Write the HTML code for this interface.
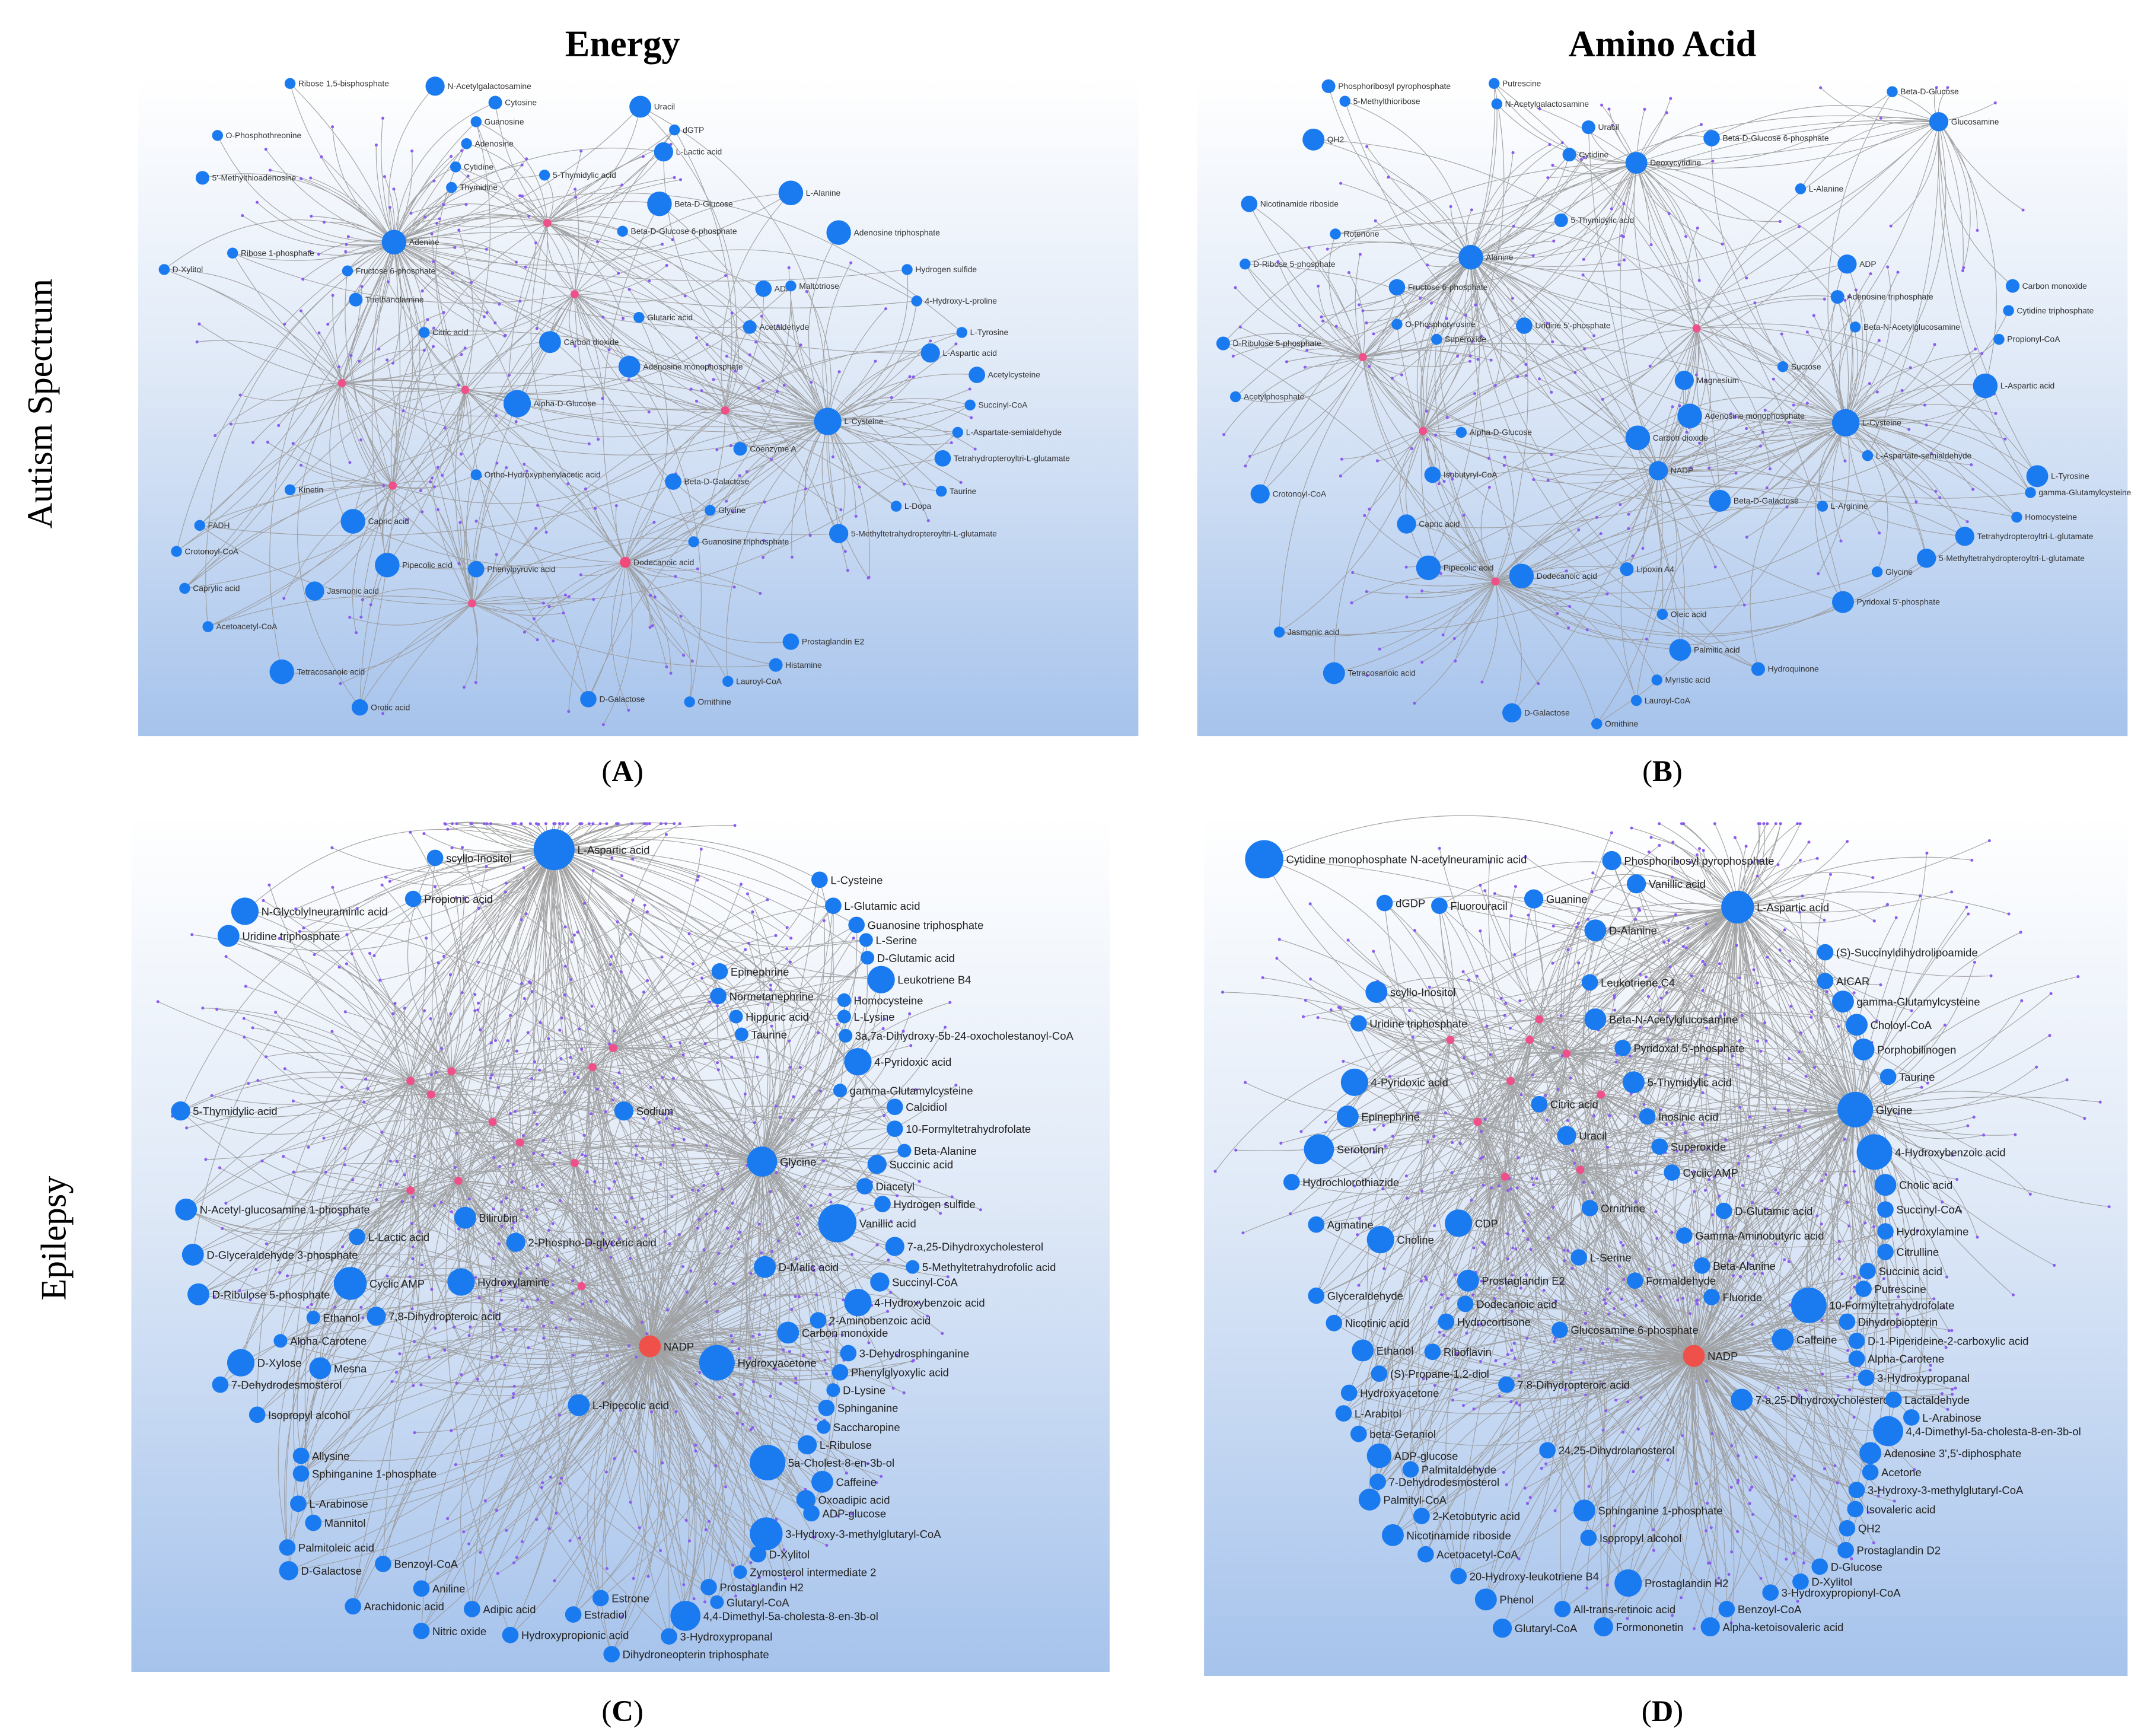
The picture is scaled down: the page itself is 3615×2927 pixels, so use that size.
<!DOCTYPE html>
<html><head><meta charset="utf-8"><style>
html,body{margin:0;padding:0;background:#fff;}
svg{display:block;}
.n circle{fill:#1a7af0;}
.a text{font:6px "Liberation Sans",sans-serif;fill:#333;}
.c text{font:8px "Liberation Sans",sans-serif;fill:#222;}
.t{font:bold 27px "Liberation Serif",serif;fill:#000;}
.rl{font:26px "Liberation Serif",serif;fill:#000;}
.pl{font:22px "Liberation Serif",serif;fill:#000;}
</style></head><body>
<svg id="s" width="3615" height="2927" viewBox="0 0 1567 1268.8" preserveAspectRatio="none" xmlns="http://www.w3.org/2000/svg">
<defs><linearGradient id="g" x1="0" y1="0" x2="0" y2="1"><stop offset="0" stop-color="#ffffff"/><stop offset="0.45" stop-color="#dfe9f7"/><stop offset="1" stop-color="#a6c3ec"/></linearGradient></defs>
<rect x="101" y="57" width="731" height="481" fill="url(#g)"/>
<rect x="875" y="57" width="680" height="481" fill="url(#g)"/>
<rect x="96" y="595" width="715" height="627" fill="url(#g)"/>
<rect x="880" y="595" width="675" height="630" fill="url(#g)"/>
<text class="t" x="455" y="41" text-anchor="middle">Energy</text>
<text class="t" x="1215" y="41" text-anchor="middle">Amino Acid</text>
<text class="rl" transform="translate(38,295) rotate(-90)" text-anchor="middle">Autism Spectrum</text>
<text class="rl" transform="translate(48,905) rotate(-90)" text-anchor="middle">Epilepsy</text>
<text class="pl" x="455" y="571" text-anchor="middle">(<tspan font-weight="bold">A</tspan>)</text>
<text class="pl" x="1215" y="571" text-anchor="middle">(<tspan font-weight="bold">B</tspan>)</text>
<text class="pl" x="455" y="1258" text-anchor="middle">(<tspan font-weight="bold">C</tspan>)</text>
<text class="pl" x="1215" y="1258" text-anchor="middle">(<tspan font-weight="bold">D</tspan>)</text>

<g id="pA" class="a">
<g class="n" transform="translate(212,61)"><circle r="4"/><text x="6" y="2">Ribose 1,5-bisphosphate</text></g>
<g class="n" transform="translate(318,63)"><circle r="7"/><text x="9" y="2">N-Acetylgalactosamine</text></g>
<g class="n" transform="translate(362,75)"><circle r="5"/><text x="7" y="2">Cytosine</text></g>
<g class="n" transform="translate(468,78)"><circle r="8"/><text x="10" y="2">Uracil</text></g>
<g class="n" transform="translate(159,99)"><circle r="4"/><text x="6" y="2">O-Phosphothreonine</text></g>
<g class="n" transform="translate(348,89)"><circle r="4"/><text x="6" y="2">Guanosine</text></g>
<g class="n" transform="translate(493,95)"><circle r="4"/><text x="6" y="2">dGTP</text></g>
<g class="n" transform="translate(341,105)"><circle r="4"/><text x="6" y="2">Adenosine</text></g>
<g class="n" transform="translate(485,111)"><circle r="7"/><text x="9" y="2">L-Lactic acid</text></g>
<g class="n" transform="translate(148,130)"><circle r="5"/><text x="7" y="2">5'-Methylthioadenosine</text></g>
<g class="n" transform="translate(333,122)"><circle r="4"/><text x="6" y="2">Cytidine</text></g>
<g class="n" transform="translate(398,128)"><circle r="4"/><text x="6" y="2">5-Thymidylic acid</text></g>
<g class="n" transform="translate(330,137)"><circle r="4"/><text x="6" y="2">Thymidine</text></g>
<g class="n" transform="translate(578,141)"><circle r="9"/><text x="11" y="2">L-Alanine</text></g>
<g class="n" transform="translate(482,149)"><circle r="9"/><text x="11" y="2">Beta-D-Glucose</text></g>
<g class="n" transform="translate(288,177)"><circle r="9"/><text x="11" y="2">Adenine</text></g>
<g class="n" transform="translate(455,169)"><circle r="4"/><text x="6" y="2">Beta-D-Glucose 6-phosphate</text></g>
<g class="n" transform="translate(613,170)"><circle r="9"/><text x="11" y="2">Adenosine triphosphate</text></g>
<g class="n" transform="translate(120,197)"><circle r="4"/><text x="6" y="2">D-Xylitol</text></g>
<g class="n" transform="translate(170,185)"><circle r="4"/><text x="6" y="2">Ribose 1-phosphate</text></g>
<g class="n" transform="translate(254,198)"><circle r="4"/><text x="6" y="2">Fructose 6-phosphate</text></g>
<g class="n" transform="translate(663,197)"><circle r="4"/><text x="6" y="2">Hydrogen sulfide</text></g>
<g class="n" transform="translate(260,219)"><circle r="5"/><text x="7" y="2">Triethanolamine</text></g>
<g class="n" transform="translate(558,211)"><circle r="6"/><text x="8" y="2">ADP</text></g>
<g class="n" transform="translate(578,209)"><circle r="4"/><text x="6" y="2">Maltotriose</text></g>
<g class="n" transform="translate(670,220)"><circle r="4"/><text x="6" y="2">4-Hydroxy-L-proline</text></g>
<g class="n" transform="translate(467,232)"><circle r="4"/><text x="6" y="2">Glutaric acid</text></g>
<g class="n" transform="translate(548,239)"><circle r="5"/><text x="7" y="2">Acetaldehyde</text></g>
<g class="n" transform="translate(310,243)"><circle r="4"/><text x="6" y="2">Citric acid</text></g>
<g class="n" transform="translate(402,250)"><circle r="8"/><text x="10" y="2">Carbon dioxide</text></g>
<g class="n" transform="translate(703,243)"><circle r="4"/><text x="6" y="2">L-Tyrosine</text></g>
<g class="n" transform="translate(680,258)"><circle r="7"/><text x="9" y="2">L-Aspartic acid</text></g>
<g class="n" transform="translate(460,268)"><circle r="8"/><text x="10" y="2">Adenosine monophosphate</text></g>
<g class="n" transform="translate(714,274)"><circle r="6"/><text x="8" y="2">Acetylcysteine</text></g>
<g class="n" transform="translate(378,295)"><circle r="10"/><text x="12" y="2">Alpha-D-Glucose</text></g>
<g class="n" transform="translate(709,296)"><circle r="4"/><text x="6" y="2">Succinyl-CoA</text></g>
<g class="n" transform="translate(605,308)"><circle r="10"/><text x="12" y="2">L-Cysteine</text></g>
<g class="n" transform="translate(700,316)"><circle r="4"/><text x="6" y="2">L-Aspartate-semialdehyde</text></g>
<g class="n" transform="translate(541,328)"><circle r="5"/><text x="7" y="2">Coenzyme A</text></g>
<g class="n" transform="translate(689,335)"><circle r="6"/><text x="8" y="2">Tetrahydropteroyltri-L-glutamate</text></g>
<g class="n" transform="translate(348,347)"><circle r="4"/><text x="6" y="2">Ortho-Hydroxyphenylacetic acid</text></g>
<g class="n" transform="translate(492,352)"><circle r="6"/><text x="8" y="2">Beta-D-Galactose</text></g>
<g class="n" transform="translate(212,358)"><circle r="4"/><text x="6" y="2">Kinetin</text></g>
<g class="n" transform="translate(688,359)"><circle r="4"/><text x="6" y="2">Taurine</text></g>
<g class="n" transform="translate(519,373)"><circle r="4"/><text x="6" y="2">Glycine</text></g>
<g class="n" transform="translate(655,370)"><circle r="4"/><text x="6" y="2">L-Dopa</text></g>
<g class="n" transform="translate(258,381)"><circle r="9"/><text x="11" y="2">Capric acid</text></g>
<g class="n" transform="translate(146,384)"><circle r="4"/><text x="6" y="2">FADH</text></g>
<g class="n" transform="translate(613,390)"><circle r="7"/><text x="9" y="2">5-Methyltetrahydropteroyltri-L-glutamate</text></g>
<g class="n" transform="translate(507,396)"><circle r="4"/><text x="6" y="2">Guanosine triphosphate</text></g>
<g class="n" transform="translate(129,403)"><circle r="4"/><text x="6" y="2">Crotonoyl-CoA</text></g>
<g class="n" transform="translate(283,413)"><circle r="9"/><text x="11" y="2">Pipecolic acid</text></g>
<g class="n" transform="translate(348,416)"><circle r="6"/><text x="8" y="2">Phenylpyruvic acid</text></g>
<g class="n" transform="translate(457,411)"><circle r="4" style="fill:#f04a7a"/><text x="6" y="2">Dodecanoic acid</text></g>
<g class="n" transform="translate(135,430)"><circle r="4"/><text x="6" y="2">Caprylic acid</text></g>
<g class="n" transform="translate(230,432)"><circle r="7"/><text x="9" y="2">Jasmonic acid</text></g>
<g class="n" transform="translate(152,458)"><circle r="4"/><text x="6" y="2">Acetoacetyl-CoA</text></g>
<g class="n" transform="translate(578,469)"><circle r="6"/><text x="8" y="2">Prostaglandin E2</text></g>
<g class="n" transform="translate(567,486)"><circle r="5"/><text x="7" y="2">Histamine</text></g>
<g class="n" transform="translate(206,491)"><circle r="9"/><text x="11" y="2">Tetracosanoic acid</text></g>
<g class="n" transform="translate(263,517)"><circle r="6"/><text x="8" y="2">Orotic acid</text></g>
<g class="n" transform="translate(430,511)"><circle r="6"/><text x="8" y="2">D-Galactose</text></g>
<g class="n" transform="translate(504,513)"><circle r="4"/><text x="6" y="2">Ornithine</text></g>
<g class="n" transform="translate(532,498)"><circle r="4"/><text x="6" y="2">Lauroyl-CoA</text></g>
</g>

<g id="pB" class="a">
<g class="n" transform="translate(971,63)"><circle r="5"/><text x="7" y="2">Phosphoribosyl pyrophosphate</text></g>
<g class="n" transform="translate(1092,61)"><circle r="4"/><text x="6" y="2">Putrescine</text></g>
<g class="n" transform="translate(983,74)"><circle r="4"/><text x="6" y="2">5-Methylthioribose</text></g>
<g class="n" transform="translate(1094,76)"><circle r="4"/><text x="6" y="2">N-Acetylgalactosamine</text></g>
<g class="n" transform="translate(1383,67)"><circle r="4"/><text x="6" y="2">Beta-D-Glucose</text></g>
<g class="n" transform="translate(1417,89)"><circle r="7"/><text x="9" y="2">Glucosamine</text></g>
<g class="n" transform="translate(1161,93)"><circle r="5"/><text x="7" y="2">Uracil</text></g>
<g class="n" transform="translate(960,102)"><circle r="8"/><text x="10" y="2">QH2</text></g>
<g class="n" transform="translate(1251,101)"><circle r="6"/><text x="8" y="2">Beta-D-Glucose 6-phosphate</text></g>
<g class="n" transform="translate(1147,113)"><circle r="5"/><text x="7" y="2">Cytidine</text></g>
<g class="n" transform="translate(1196,119)"><circle r="8"/><text x="10" y="2">Deoxycytidine</text></g>
<g class="n" transform="translate(1316,138)"><circle r="4"/><text x="6" y="2">L-Alanine</text></g>
<g class="n" transform="translate(913,149)"><circle r="6"/><text x="8" y="2">Nicotinamide riboside</text></g>
<g class="n" transform="translate(1141,161)"><circle r="5"/><text x="7" y="2">5-Thymidylic acid</text></g>
<g class="n" transform="translate(976,171)"><circle r="4"/><text x="6" y="2">Rotenone</text></g>
<g class="n" transform="translate(1075,188)"><circle r="9"/><text x="11" y="2">Alanine</text></g>
<g class="n" transform="translate(1350,193)"><circle r="7"/><text x="9" y="2">ADP</text></g>
<g class="n" transform="translate(910,193)"><circle r="4"/><text x="6" y="2">D-Ribose 5-phosphate</text></g>
<g class="n" transform="translate(1021,210)"><circle r="6"/><text x="8" y="2">Fructose 6-phosphate</text></g>
<g class="n" transform="translate(1471,209)"><circle r="5"/><text x="7" y="2">Carbon monoxide</text></g>
<g class="n" transform="translate(1343,217)"><circle r="5"/><text x="7" y="2">Adenosine triphosphate</text></g>
<g class="n" transform="translate(1468,227)"><circle r="4"/><text x="6" y="2">Cytidine triphosphate</text></g>
<g class="n" transform="translate(1021,237)"><circle r="4"/><text x="6" y="2">O-Phosphotyrosine</text></g>
<g class="n" transform="translate(1114,238)"><circle r="6"/><text x="8" y="2">Uridine 5'-phosphate</text></g>
<g class="n" transform="translate(1050,248)"><circle r="4"/><text x="6" y="2">Superoxide</text></g>
<g class="n" transform="translate(1356,239)"><circle r="4"/><text x="6" y="2">Beta-N-Acetylglucosamine</text></g>
<g class="n" transform="translate(894,251)"><circle r="5"/><text x="7" y="2">D-Ribulose 5-phosphate</text></g>
<g class="n" transform="translate(1461,248)"><circle r="4"/><text x="6" y="2">Propionyl-CoA</text></g>
<g class="n" transform="translate(1303,268)"><circle r="4"/><text x="6" y="2">Sucrose</text></g>
<g class="n" transform="translate(1231,278)"><circle r="7"/><text x="9" y="2">Magnesium</text></g>
<g class="n" transform="translate(903,290)"><circle r="4"/><text x="6" y="2">Acetylphosphate</text></g>
<g class="n" transform="translate(1451,282)"><circle r="9"/><text x="11" y="2">L-Aspartic acid</text></g>
<g class="n" transform="translate(1235,304)"><circle r="9"/><text x="11" y="2">Adenosine monophosphate</text></g>
<g class="n" transform="translate(1349,309)"><circle r="10"/><text x="12" y="2">L-Cysteine</text></g>
<g class="n" transform="translate(1068,316)"><circle r="4"/><text x="6" y="2">Alpha-D-Glucose</text></g>
<g class="n" transform="translate(1197,320)"><circle r="9"/><text x="11" y="2">Carbon dioxide</text></g>
<g class="n" transform="translate(1365,333)"><circle r="4"/><text x="6" y="2">L-Aspartate-semialdehyde</text></g>
<g class="n" transform="translate(1212,344)"><circle r="7"/><text x="9" y="2">NADP</text></g>
<g class="n" transform="translate(1047,347)"><circle r="6"/><text x="8" y="2">Isobutyryl-CoA</text></g>
<g class="n" transform="translate(1489,348)"><circle r="8"/><text x="10" y="2">L-Tyrosine</text></g>
<g class="n" transform="translate(921,361)"><circle r="7"/><text x="9" y="2">Crotonoyl-CoA</text></g>
<g class="n" transform="translate(1257,366)"><circle r="8"/><text x="10" y="2">Beta-D-Galactose</text></g>
<g class="n" transform="translate(1484,360)"><circle r="4"/><text x="6" y="2">gamma-Glutamylcysteine</text></g>
<g class="n" transform="translate(1332,370)"><circle r="4"/><text x="6" y="2">L-Arginine</text></g>
<g class="n" transform="translate(1474,378)"><circle r="4"/><text x="6" y="2">Homocysteine</text></g>
<g class="n" transform="translate(1028,383)"><circle r="7"/><text x="9" y="2">Capric acid</text></g>
<g class="n" transform="translate(1436,392)"><circle r="7"/><text x="9" y="2">Tetrahydropteroyltri-L-glutamate</text></g>
<g class="n" transform="translate(1408,408)"><circle r="7"/><text x="9" y="2">5-Methyltetrahydropteroyltri-L-glutamate</text></g>
<g class="n" transform="translate(1044,415)"><circle r="9"/><text x="11" y="2">Pipecolic acid</text></g>
<g class="n" transform="translate(1112,421)"><circle r="9"/><text x="11" y="2">Dodecanoic acid</text></g>
<g class="n" transform="translate(1189,416)"><circle r="5"/><text x="7" y="2">Lipoxin A4</text></g>
<g class="n" transform="translate(1372,418)"><circle r="4"/><text x="6" y="2">Glycine</text></g>
<g class="n" transform="translate(1347,440)"><circle r="8"/><text x="10" y="2">Pyridoxal 5'-phosphate</text></g>
<g class="n" transform="translate(1215,449)"><circle r="4"/><text x="6" y="2">Oleic acid</text></g>
<g class="n" transform="translate(935,462)"><circle r="4"/><text x="6" y="2">Jasmonic acid</text></g>
<g class="n" transform="translate(1228,475)"><circle r="8"/><text x="10" y="2">Palmitic acid</text></g>
<g class="n" transform="translate(1285,489)"><circle r="5"/><text x="7" y="2">Hydroquinone</text></g>
<g class="n" transform="translate(975,492)"><circle r="8"/><text x="10" y="2">Tetracosanoic acid</text></g>
<g class="n" transform="translate(1211,497)"><circle r="4"/><text x="6" y="2">Myristic acid</text></g>
<g class="n" transform="translate(1196,512)"><circle r="4"/><text x="6" y="2">Lauroyl-CoA</text></g>
<g class="n" transform="translate(1105,521)"><circle r="7"/><text x="9" y="2">D-Galactose</text></g>
<g class="n" transform="translate(1167,529)"><circle r="4"/><text x="6" y="2">Ornithine</text></g>
</g>

<g id="pC" class="c">
<g class="n" transform="translate(405,621)"><circle r="15"/><text x="17" y="3">L-Aspartic acid</text></g>
<g class="n" transform="translate(318,627)"><circle r="6"/><text x="8" y="3">scyllo-Inositol</text></g>
<g class="n" transform="translate(599,643)"><circle r="6"/><text x="8" y="3">L-Cysteine</text></g>
<g class="n" transform="translate(179,666)"><circle r="10"/><text x="12" y="3">N-Glycolylneuraminic acid</text></g>
<g class="n" transform="translate(302,657)"><circle r="6"/><text x="8" y="3">Propionic acid</text></g>
<g class="n" transform="translate(609,662)"><circle r="6"/><text x="8" y="3">L-Glutamic acid</text></g>
<g class="n" transform="translate(167,684)"><circle r="8"/><text x="10" y="3">Uridine triphosphate</text></g>
<g class="n" transform="translate(626,676)"><circle r="6"/><text x="8" y="3">Guanosine triphosphate</text></g>
<g class="n" transform="translate(633,687)"><circle r="5"/><text x="7" y="3">L-Serine</text></g>
<g class="n" transform="translate(634,700)"><circle r="5"/><text x="7" y="3">D-Glutamic acid</text></g>
<g class="n" transform="translate(526,710)"><circle r="6"/><text x="8" y="3">Epinephrine</text></g>
<g class="n" transform="translate(644,716)"><circle r="10"/><text x="12" y="3">Leukotriene B4</text></g>
<g class="n" transform="translate(525,728)"><circle r="6"/><text x="8" y="3">Normetanephrine</text></g>
<g class="n" transform="translate(617,731)"><circle r="5"/><text x="7" y="3">Homocysteine</text></g>
<g class="n" transform="translate(538,743)"><circle r="5"/><text x="7" y="3">Hippuric acid</text></g>
<g class="n" transform="translate(617,743)"><circle r="5"/><text x="7" y="3">L-Lysine</text></g>
<g class="n" transform="translate(542,756)"><circle r="5"/><text x="7" y="3">Taurine</text></g>
<g class="n" transform="translate(618,757)"><circle r="5"/><text x="7" y="3">3a,7a-Dihydroxy-5b-24-oxocholestanoyl-CoA</text></g>
<g class="n" transform="translate(627,776)"><circle r="10"/><text x="12" y="3">4-Pyridoxic acid</text></g>
<g class="n" transform="translate(614,797)"><circle r="5"/><text x="7" y="3">gamma-Glutamylcysteine</text></g>
<g class="n" transform="translate(132,812)"><circle r="7"/><text x="9" y="3">5-Thymidylic acid</text></g>
<g class="n" transform="translate(456,812)"><circle r="7"/><text x="9" y="3">Sodium</text></g>
<g class="n" transform="translate(654,809)"><circle r="6"/><text x="8" y="3">Calcidiol</text></g>
<g class="n" transform="translate(654,825)"><circle r="6"/><text x="8" y="3">10-Formyltetrahydrofolate</text></g>
<g class="n" transform="translate(661,841)"><circle r="5"/><text x="7" y="3">Beta-Alanine</text></g>
<g class="n" transform="translate(557,849)"><circle r="11"/><text x="13" y="3">Glycine</text></g>
<g class="n" transform="translate(641,851)"><circle r="7"/><text x="9" y="3">Succinic acid</text></g>
<g class="n" transform="translate(632,867)"><circle r="6"/><text x="8" y="3">Diacetyl</text></g>
<g class="n" transform="translate(645,880)"><circle r="6"/><text x="8" y="3">Hydrogen sulfide</text></g>
<g class="n" transform="translate(136,884)"><circle r="8"/><text x="10" y="3">N-Acetyl-glucosamine 1-phosphate</text></g>
<g class="n" transform="translate(340,890)"><circle r="8"/><text x="10" y="3">Bilirubin</text></g>
<g class="n" transform="translate(612,894)"><circle r="14"/><text x="16" y="3">Vanillic acid</text></g>
<g class="n" transform="translate(261,904)"><circle r="6"/><text x="8" y="3">L-Lactic acid</text></g>
<g class="n" transform="translate(377,908)"><circle r="7"/><text x="9" y="3">2-Phospho-D-glyceric acid</text></g>
<g class="n" transform="translate(654,911)"><circle r="7"/><text x="9" y="3">7-a,25-Dihydroxycholesterol</text></g>
<g class="n" transform="translate(141,917)"><circle r="8"/><text x="10" y="3">D-Glyceraldehyde 3-phosphate</text></g>
<g class="n" transform="translate(559,926)"><circle r="8"/><text x="10" y="3">D-Malic acid</text></g>
<g class="n" transform="translate(667,926)"><circle r="5"/><text x="7" y="3">5-Methyltetrahydrofolic acid</text></g>
<g class="n" transform="translate(256,938)"><circle r="12"/><text x="14" y="3">Cyclic AMP</text></g>
<g class="n" transform="translate(337,937)"><circle r="10"/><text x="12" y="3">Hydroxylamine</text></g>
<g class="n" transform="translate(643,937)"><circle r="7"/><text x="9" y="3">Succinyl-CoA</text></g>
<g class="n" transform="translate(145,946)"><circle r="8"/><text x="10" y="3">D-Ribulose 5-phosphate</text></g>
<g class="n" transform="translate(627,952)"><circle r="10"/><text x="12" y="3">4-Hydroxybenzoic acid</text></g>
<g class="n" transform="translate(229,963)"><circle r="5"/><text x="7" y="3">Ethanol</text></g>
<g class="n" transform="translate(275,962)"><circle r="7"/><text x="9" y="3">7,8-Dihydropteroic acid</text></g>
<g class="n" transform="translate(598,965)"><circle r="6"/><text x="8" y="3">2-Aminobenzoic acid</text></g>
<g class="n" transform="translate(576,974)"><circle r="8"/><text x="10" y="3">Carbon monoxide</text></g>
<g class="n" transform="translate(205,980)"><circle r="5"/><text x="7" y="3">Alpha-Carotene</text></g>
<g class="n" transform="translate(475,984)"><circle r="8" style="fill:#f0504a"/><text x="10" y="3">NADP</text></g>
<g class="n" transform="translate(524,996)"><circle r="13"/><text x="15" y="3">Hydroxyacetone</text></g>
<g class="n" transform="translate(620,989)"><circle r="6"/><text x="8" y="3">3-Dehydrosphinganine</text></g>
<g class="n" transform="translate(176,996)"><circle r="10"/><text x="12" y="3">D-Xylose</text></g>
<g class="n" transform="translate(234,1000)"><circle r="8"/><text x="10" y="3">Mesna</text></g>
<g class="n" transform="translate(614,1003)"><circle r="6"/><text x="8" y="3">Phenylglyoxylic acid</text></g>
<g class="n" transform="translate(161,1012)"><circle r="6"/><text x="8" y="3">7-Dehydrodesmosterol</text></g>
<g class="n" transform="translate(609,1016)"><circle r="5"/><text x="7" y="3">D-Lysine</text></g>
<g class="n" transform="translate(423,1027)"><circle r="8"/><text x="10" y="3">L-Pipecolic acid</text></g>
<g class="n" transform="translate(604,1029)"><circle r="6"/><text x="8" y="3">Sphinganine</text></g>
<g class="n" transform="translate(188,1034)"><circle r="6"/><text x="8" y="3">Isopropyl alcohol</text></g>
<g class="n" transform="translate(602,1043)"><circle r="5"/><text x="7" y="3">Saccharopine</text></g>
<g class="n" transform="translate(590,1056)"><circle r="7"/><text x="9" y="3">L-Ribulose</text></g>
<g class="n" transform="translate(220,1064)"><circle r="6"/><text x="8" y="3">Allysine</text></g>
<g class="n" transform="translate(561,1069)"><circle r="13"/><text x="15" y="3">5a-Cholest-8-en-3b-ol</text></g>
<g class="n" transform="translate(220,1077)"><circle r="6"/><text x="8" y="3">Sphinganine 1-phosphate</text></g>
<g class="n" transform="translate(601,1083)"><circle r="8"/><text x="10" y="3">Caffeine</text></g>
<g class="n" transform="translate(218,1099)"><circle r="6"/><text x="8" y="3">L-Arabinose</text></g>
<g class="n" transform="translate(589,1096)"><circle r="7"/><text x="9" y="3">Oxoadipic acid</text></g>
<g class="n" transform="translate(593,1106)"><circle r="6"/><text x="8" y="3">ADP-glucose</text></g>
<g class="n" transform="translate(229,1113)"><circle r="6"/><text x="8" y="3">Mannitol</text></g>
<g class="n" transform="translate(560,1121)"><circle r="12"/><text x="14" y="3">3-Hydroxy-3-methylglutaryl-CoA</text></g>
<g class="n" transform="translate(210,1131)"><circle r="6"/><text x="8" y="3">Palmitoleic acid</text></g>
<g class="n" transform="translate(554,1136)"><circle r="6"/><text x="8" y="3">D-Xylitol</text></g>
<g class="n" transform="translate(280,1143)"><circle r="6"/><text x="8" y="3">Benzoyl-CoA</text></g>
<g class="n" transform="translate(211,1148)"><circle r="7"/><text x="9" y="3">D-Galactose</text></g>
<g class="n" transform="translate(541,1149)"><circle r="5"/><text x="7" y="3">Zymosterol intermediate 2</text></g>
<g class="n" transform="translate(308,1161)"><circle r="6"/><text x="8" y="3">Aniline</text></g>
<g class="n" transform="translate(518,1160)"><circle r="6"/><text x="8" y="3">Prostaglandin H2</text></g>
<g class="n" transform="translate(258,1174)"><circle r="6"/><text x="8" y="3">Arachidonic acid</text></g>
<g class="n" transform="translate(345,1176)"><circle r="6"/><text x="8" y="3">Adipic acid</text></g>
<g class="n" transform="translate(439,1168)"><circle r="6"/><text x="8" y="3">Estrone</text></g>
<g class="n" transform="translate(419,1180)"><circle r="6"/><text x="8" y="3">Estradiol</text></g>
<g class="n" transform="translate(524,1171)"><circle r="5"/><text x="7" y="3">Glutaryl-CoA</text></g>
<g class="n" transform="translate(501,1181)"><circle r="11"/><text x="13" y="3">4,4-Dimethyl-5a-cholesta-8-en-3b-ol</text></g>
<g class="n" transform="translate(308,1192)"><circle r="6"/><text x="8" y="3">Nitric oxide</text></g>
<g class="n" transform="translate(373,1195)"><circle r="6"/><text x="8" y="3">Hydroxypropionic acid</text></g>
<g class="n" transform="translate(489,1196)"><circle r="6"/><text x="8" y="3">3-Hydroxypropanal</text></g>
<g class="n" transform="translate(447,1209)"><circle r="6"/><text x="8" y="3">Dihydroneopterin triphosphate</text></g>
</g>

<g id="pD" class="c">
<g class="n" transform="translate(924,628)"><circle r="14"/><text x="16" y="3">Cytidine monophosphate N-acetylneuraminic acid</text></g>
<g class="n" transform="translate(1178,629)"><circle r="7"/><text x="9" y="3">Phosphoribosyl pyrophosphate</text></g>
<g class="n" transform="translate(1196,646)"><circle r="7"/><text x="9" y="3">Vanillic acid</text></g>
<g class="n" transform="translate(1012,660)"><circle r="6"/><text x="8" y="3">dGDP</text></g>
<g class="n" transform="translate(1052,662)"><circle r="6"/><text x="8" y="3">Fluorouracil</text></g>
<g class="n" transform="translate(1121,657)"><circle r="7"/><text x="9" y="3">Guanine</text></g>
<g class="n" transform="translate(1270,663)"><circle r="12"/><text x="14" y="3">L-Aspartic acid</text></g>
<g class="n" transform="translate(1166,680)"><circle r="8"/><text x="10" y="3">D-Alanine</text></g>
<g class="n" transform="translate(1334,696)"><circle r="6"/><text x="8" y="3">(S)-Succinyldihydrolipoamide</text></g>
<g class="n" transform="translate(1006,725)"><circle r="8"/><text x="10" y="3">scyllo-Inositol</text></g>
<g class="n" transform="translate(1162,718)"><circle r="6"/><text x="8" y="3">Leukotriene C4</text></g>
<g class="n" transform="translate(1334,717)"><circle r="6"/><text x="8" y="3">AICAR</text></g>
<g class="n" transform="translate(1347,732)"><circle r="8"/><text x="10" y="3">gamma-Glutamylcysteine</text></g>
<g class="n" transform="translate(993,748)"><circle r="6"/><text x="8" y="3">Uridine triphosphate</text></g>
<g class="n" transform="translate(1166,745)"><circle r="8"/><text x="10" y="3">Beta-N-Acetylglucosamine</text></g>
<g class="n" transform="translate(1357,749)"><circle r="8"/><text x="10" y="3">Choloyl-CoA</text></g>
<g class="n" transform="translate(1186,766)"><circle r="6"/><text x="8" y="3">Pyridoxal 5'-phosphate</text></g>
<g class="n" transform="translate(1362,767)"><circle r="8"/><text x="10" y="3">Porphobilinogen</text></g>
<g class="n" transform="translate(990,791)"><circle r="10"/><text x="12" y="3">4-Pyridoxic acid</text></g>
<g class="n" transform="translate(1194,791)"><circle r="8"/><text x="10" y="3">5-Thymidylic acid</text></g>
<g class="n" transform="translate(1380,787)"><circle r="6"/><text x="8" y="3">Taurine</text></g>
<g class="n" transform="translate(1125,807)"><circle r="6"/><text x="8" y="3">Citric acid</text></g>
<g class="n" transform="translate(1356,811)"><circle r="13"/><text x="15" y="3">Glycine</text></g>
<g class="n" transform="translate(985,816)"><circle r="8"/><text x="10" y="3">Epinephrine</text></g>
<g class="n" transform="translate(1204,816)"><circle r="6"/><text x="8" y="3">Inosinic acid</text></g>
<g class="n" transform="translate(1145,830)"><circle r="7"/><text x="9" y="3">Uracil</text></g>
<g class="n" transform="translate(1213,838)"><circle r="6"/><text x="8" y="3">Superoxide</text></g>
<g class="n" transform="translate(964,840)"><circle r="11"/><text x="13" y="3">Serotonin</text></g>
<g class="n" transform="translate(1370,842)"><circle r="13"/><text x="15" y="3">4-Hydroxybenzoic acid</text></g>
<g class="n" transform="translate(1222,857)"><circle r="6"/><text x="8" y="3">Cyclic AMP</text></g>
<g class="n" transform="translate(944,864)"><circle r="6"/><text x="8" y="3">Hydrochlorothiazide</text></g>
<g class="n" transform="translate(1378,866)"><circle r="8"/><text x="10" y="3">Cholic acid</text></g>
<g class="n" transform="translate(1162,883)"><circle r="6"/><text x="8" y="3">Ornithine</text></g>
<g class="n" transform="translate(1260,885)"><circle r="6"/><text x="8" y="3">D-Glutamic acid</text></g>
<g class="n" transform="translate(1378,884)"><circle r="6"/><text x="8" y="3">Succinyl-CoA</text></g>
<g class="n" transform="translate(962,895)"><circle r="6"/><text x="8" y="3">Agmatine</text></g>
<g class="n" transform="translate(1009,906)"><circle r="10"/><text x="12" y="3">Choline</text></g>
<g class="n" transform="translate(1066,894)"><circle r="10"/><text x="12" y="3">CDP</text></g>
<g class="n" transform="translate(1231,903)"><circle r="6"/><text x="8" y="3">Gamma-Aminobutyric acid</text></g>
<g class="n" transform="translate(1378,900)"><circle r="6"/><text x="8" y="3">Hydroxylamine</text></g>
<g class="n" transform="translate(1378,915)"><circle r="6"/><text x="8" y="3">Citrulline</text></g>
<g class="n" transform="translate(1154,919)"><circle r="6"/><text x="8" y="3">L-Serine</text></g>
<g class="n" transform="translate(1365,929)"><circle r="6"/><text x="8" y="3">Succinic acid</text></g>
<g class="n" transform="translate(1073,936)"><circle r="8"/><text x="10" y="3">Prostaglandin E2</text></g>
<g class="n" transform="translate(1195,936)"><circle r="6"/><text x="8" y="3">Formaldehyde</text></g>
<g class="n" transform="translate(1244,925)"><circle r="6"/><text x="8" y="3">Beta-Alanine</text></g>
<g class="n" transform="translate(1322,954)"><circle r="13"/><text x="15" y="3">10-Formyltetrahydrofolate</text></g>
<g class="n" transform="translate(1362,942)"><circle r="6"/><text x="8" y="3">Putrescine</text></g>
<g class="n" transform="translate(962,947)"><circle r="6"/><text x="8" y="3">Glyceraldehyde</text></g>
<g class="n" transform="translate(1071,953)"><circle r="6"/><text x="8" y="3">Dodecanoic acid</text></g>
<g class="n" transform="translate(1251,948)"><circle r="6"/><text x="8" y="3">Fluoride</text></g>
<g class="n" transform="translate(1350,966)"><circle r="6"/><text x="8" y="3">Dihydrobiopterin</text></g>
<g class="n" transform="translate(975,967)"><circle r="6"/><text x="8" y="3">Nicotinic acid</text></g>
<g class="n" transform="translate(1057,966)"><circle r="6"/><text x="8" y="3">Hydrocortisone</text></g>
<g class="n" transform="translate(1140,972)"><circle r="6"/><text x="8" y="3">Glucosamine 6-phosphate</text></g>
<g class="n" transform="translate(1303,979)"><circle r="8"/><text x="10" y="3">Caffeine</text></g>
<g class="n" transform="translate(1357,980)"><circle r="6"/><text x="8" y="3">D-1-Piperideine-2-carboxylic acid</text></g>
<g class="n" transform="translate(996,987)"><circle r="8"/><text x="10" y="3">Ethanol</text></g>
<g class="n" transform="translate(1047,988)"><circle r="6"/><text x="8" y="3">Riboflavin</text></g>
<g class="n" transform="translate(1238,991)"><circle r="8" style="fill:#f0504a"/><text x="10" y="3">NADP</text></g>
<g class="n" transform="translate(1357,993)"><circle r="6"/><text x="8" y="3">Alpha-Carotene</text></g>
<g class="n" transform="translate(1008,1004)"><circle r="6"/><text x="8" y="3">(S)-Propane-1,2-diol</text></g>
<g class="n" transform="translate(1364,1007)"><circle r="6"/><text x="8" y="3">3-Hydroxypropanal</text></g>
<g class="n" transform="translate(986,1018)"><circle r="6"/><text x="8" y="3">Hydroxyacetone</text></g>
<g class="n" transform="translate(1101,1012)"><circle r="6"/><text x="8" y="3">7,8-Dihydropteroic acid</text></g>
<g class="n" transform="translate(1273,1023)"><circle r="8"/><text x="10" y="3">7-a,25-Dihydroxycholesterol</text></g>
<g class="n" transform="translate(1384,1023)"><circle r="6"/><text x="8" y="3">Lactaldehyde</text></g>
<g class="n" transform="translate(982,1033)"><circle r="6"/><text x="8" y="3">L-Arabitol</text></g>
<g class="n" transform="translate(1397,1036)"><circle r="6"/><text x="8" y="3">L-Arabinose</text></g>
<g class="n" transform="translate(1380,1046)"><circle r="11"/><text x="13" y="3">4,4-Dimethyl-5a-cholesta-8-en-3b-ol</text></g>
<g class="n" transform="translate(993,1048)"><circle r="6"/><text x="8" y="3">beta-Geraniol</text></g>
<g class="n" transform="translate(1008,1064)"><circle r="9"/><text x="11" y="3">ADP-glucose</text></g>
<g class="n" transform="translate(1031,1074)"><circle r="6"/><text x="8" y="3">Palmitaldehyde</text></g>
<g class="n" transform="translate(1131,1060)"><circle r="6"/><text x="8" y="3">24,25-Dihydrolanosterol</text></g>
<g class="n" transform="translate(1367,1062)"><circle r="8"/><text x="10" y="3">Adenosine 3',5'-diphosphate</text></g>
<g class="n" transform="translate(1007,1083)"><circle r="6"/><text x="8" y="3">7-Dehydrodesmosterol</text></g>
<g class="n" transform="translate(1367,1076)"><circle r="6"/><text x="8" y="3">Acetone</text></g>
<g class="n" transform="translate(1001,1096)"><circle r="8"/><text x="10" y="3">Palmityl-CoA</text></g>
<g class="n" transform="translate(1357,1089)"><circle r="6"/><text x="8" y="3">3-Hydroxy-3-methylglutaryl-CoA</text></g>
<g class="n" transform="translate(1158,1104)"><circle r="8"/><text x="10" y="3">Sphinganine 1-phosphate</text></g>
<g class="n" transform="translate(1039,1108)"><circle r="6"/><text x="8" y="3">2-Ketobutyric acid</text></g>
<g class="n" transform="translate(1356,1103)"><circle r="6"/><text x="8" y="3">Isovaleric acid</text></g>
<g class="n" transform="translate(1018,1122)"><circle r="8"/><text x="10" y="3">Nicotinamide riboside</text></g>
<g class="n" transform="translate(1161,1124)"><circle r="6"/><text x="8" y="3">Isopropyl alcohol</text></g>
<g class="n" transform="translate(1350,1117)"><circle r="6"/><text x="8" y="3">QH2</text></g>
<g class="n" transform="translate(1349,1133)"><circle r="6"/><text x="8" y="3">Prostaglandin D2</text></g>
<g class="n" transform="translate(1042,1136)"><circle r="6"/><text x="8" y="3">Acetoacetyl-CoA</text></g>
<g class="n" transform="translate(1330,1145)"><circle r="6"/><text x="8" y="3">D-Glucose</text></g>
<g class="n" transform="translate(1066,1152)"><circle r="6"/><text x="8" y="3">20-Hydroxy-leukotriene B4</text></g>
<g class="n" transform="translate(1316,1156)"><circle r="6"/><text x="8" y="3">D-Xylitol</text></g>
<g class="n" transform="translate(1190,1157)"><circle r="10"/><text x="12" y="3">Prostaglandin H2</text></g>
<g class="n" transform="translate(1294,1164)"><circle r="6"/><text x="8" y="3">3-Hydroxypropionyl-CoA</text></g>
<g class="n" transform="translate(1086,1169)"><circle r="8"/><text x="10" y="3">Phenol</text></g>
<g class="n" transform="translate(1142,1176)"><circle r="6"/><text x="8" y="3">All-trans-retinoic acid</text></g>
<g class="n" transform="translate(1262,1176)"><circle r="6"/><text x="8" y="3">Benzoyl-CoA</text></g>
<g class="n" transform="translate(1098,1190)"><circle r="7"/><text x="9" y="3">Glutaryl-CoA</text></g>
<g class="n" transform="translate(1172,1189)"><circle r="7"/><text x="9" y="3">Formononetin</text></g>
<g class="n" transform="translate(1250,1189)"><circle r="7"/><text x="9" y="3">Alpha-ketoisovaleric acid</text></g>
</g>
</svg>
<script>
(function(){
var NS="http://www.w3.org/2000/svg",svg=document.getElementById("s");
var seed=12345;function R(){seed=(seed*1103515245+12345)%2147483648;return seed/2147483648;}
var P={
pA:{box:[104,60,828,535],hubs:[[288,177,50],[605,308,50],[250,280,25],[400,163,22],[457,411,32],[345,441,25],[287,355,16],[420,215,10],[530,300,10],[340,285,10]],big:[0,1],dmin:25,dmax:120,pb:0.35,w:0.5},
pB:{box:[878,60,1552,535],hubs:[[1075,188,45],[1349,309,50],[996,261,28],[1093,425,32],[1196,119,22],[1417,89,10],[1212,344,18],[1240,240,10],[1040,315,12]],big:[0,1],dmin:25,dmax:120,pb:0.35,w:0.5},
pC:{box:[99,598,808,1219],hubs:[[405,621,90],[557,849,80],[475,984,220],[300,790,35],[315,800,25],[330,783,25],[433,780,30],[448,766,25],[335,863,25],[380,835,25],[360,820,15],[420,850,15],[425,940,10],[300,870,15]],big:[0,1,2],dmin:40,dmax:200,pb:0.75,w:0.5},
pD:{box:[883,598,1552,1222],hubs:[[1270,663,90],[1356,811,80],[1238,991,220],[1118,760,30],[1104,790,25],[1145,770,25],[1100,860,25],[1155,855,25],[1125,745,20],[1080,820,15],[1170,800,15],[1060,760,10]],big:[0,1,2],dmin:40,dmax:200,pb:0.75,w:0.5}
};
function q(x1,y1,x2,y2,k){var mx=(x1+x2)/2,my=(y1+y2)/2,dx=x2-x1,dy=y2-y1;var cx=mx-dy*k,cy=my+dx*k;return "M"+x1.toFixed(1)+" "+y1.toFixed(1)+"Q"+cx.toFixed(1)+" "+cy.toFixed(1)+" "+x2.toFixed(1)+" "+y2.toFixed(1);}
for(var id in P){
 var p=P[id],g=document.getElementById(id),d="",dots="",pinks="";
 var nodes=g.querySelectorAll("g.n"),pts=[];
 for(var i=0;i<nodes.length;i++){var m=/translate\(([\d.]+),([\d.]+)\)/.exec(nodes[i].getAttribute("transform"));pts.push([+m[1],+m[2]]);}
 var H=p.hubs;
 pts.forEach(function(pt){
   var best=[];H.forEach(function(h,j){best.push([Math.hypot(h[0]-pt[0],h[1]-pt[1]),j]);});
   best.sort(function(a,b){return a[0]-b[0];});
   var used={};
   function add(j){if(used[j])return;used[j]=1;var h=H[j];if(Math.hypot(h[0]-pt[0],h[1]-pt[1])<3)return;d+=q(h[0],h[1],pt[0],pt[1],(R()<0.5?1:-1)*(0.08+R()*0.25));}
   add(best[0][1]);
   p.big.forEach(function(j){if(R()<p.pb)add(j);});
   var n=Math.floor(R()*4);
   for(var k=0;k<n;k++)add(best[1+Math.floor(R()*Math.min(6,best.length-1))][1]);
 });
 var b=p.box;
 H.forEach(function(h,j){
   for(var k=0;k<h[2];k++){
     var a=R()*Math.PI*2,r=p.dmin+Math.pow(R(),0.7)*(p.dmax-p.dmin);
     var x=h[0]+Math.cos(a)*r,y=h[1]+Math.sin(a)*r;
     if(x<b[0]+4||x>b[2]-4||y<b[1]+4||y>b[3]-4){r*=0.5;x=h[0]+Math.cos(a)*r;y=h[1]+Math.sin(a)*r;}
     x=Math.max(b[0]+4,Math.min(b[2]-4,x));y=Math.max(b[1]+4,Math.min(b[3]-4,y));
     d+=q(h[0],h[1],x,y,(R()<0.5?1:-1)*(0.05+R()*0.2));
     dots+='<circle cx="'+x.toFixed(1)+'" cy="'+y.toFixed(1)+'" r="1.1"/>';
   }
   if(j>=p.big.length)pinks+='<circle cx="'+h[0]+'" cy="'+h[1]+'" r="3"/>';
 });
 for(var k=0;k<H.length*4;k++){var a=H[Math.floor(R()*H.length)],c=H[Math.floor(R()*H.length)];if(a!==c)d+=q(a[0],a[1],c[0],c[1],(R()-0.5)*0.6);}
 var eg=document.createElementNS(NS,"g");
 eg.innerHTML='<path d="'+d+'" fill="none" stroke="#9a9a9a" stroke-width="'+p.w+'" stroke-opacity="0.9"/><g fill="#8a5cf0">'+dots+'</g><g fill="#f0508a">'+pinks+'</g>';
 svg.insertBefore(eg,g);
}
})();
</script>
</body></html>
